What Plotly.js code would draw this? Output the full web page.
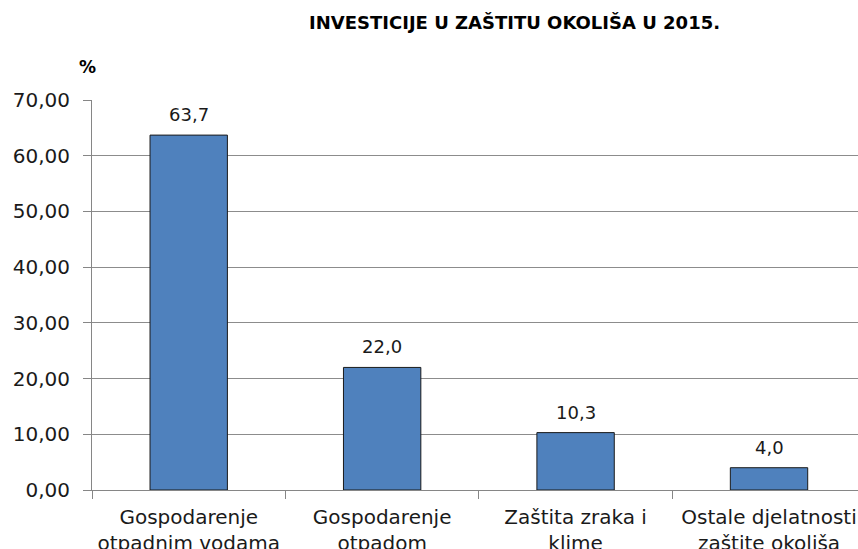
<!DOCTYPE html>
<html>
<head>
<meta charset="utf-8">
<script src="https://cdn.plot.ly/plotly-3.0.1.min.js"></script>
<style>html,body{margin:0;padding:0;overflow:hidden;background:#fff;}</style>
</head>
<body>
<div id="chart" style="width:858px;height:549px;"></div>
<script>
const categories = [
  "Gospodarenje<br>otpadnim vodama",
  "Gospodarenje<br>otpadom",
  "Zaštita zraka i<br>klime",
  "Ostale djelatnosti<br>zaštite okoliša"
];
const values = [63.7, 22.0, 10.3, 4.0];
const valueLabels = ["63,7", "22,0", "10,3", "4,0"];
const yTickVals = [0, 10, 20, 30, 40, 50, 60, 70];
const yTickText = ["0,00", "10,00", "20,00", "30,00", "40,00", "50,00", "60,00", "70,00"];

const trace = {
  type: "bar",
  x: categories,
  y: values,
  width: 0.4,
  marker: {color: "#4F81BD", line: {color: "#1a1a1a", width: 1}},
  hoverinfo: "none"
};

const annotations = categories.map((c, i) => ({
  x: c, y: values[i], text: valueLabels[i],
  xref: "x", yref: "y", showarrow: false,
  yanchor: "bottom", yshift: 8,
  font: {family: "DejaVu Sans", size: 18, color: "#1a1a1a"}
}));
annotations.push({
  xref: "paper", yref: "paper", x: -0.006, y: 1.055, xanchor: "center", yanchor: "bottom",
  text: "<b>%</b>", showarrow: false,
  font: {family: "DejaVu Sans", size: 17, color: "#000"}
});

const layout = {
  width: 858, height: 549,
  margin: {l: 92, r: 0, t: 100, b: 59},
  paper_bgcolor: "#fff", plot_bgcolor: "#fff",
  showlegend: false,
  title: {
    text: "<b>INVESTICIJE U ZAŠTITU OKOLIŠA U 2015.</b>",
    x: 0.5997, xanchor: "center", y: 0.958, yanchor: "middle",
    font: {family: "DejaVu Sans", size: 18, color: "#000"}
  },
  xaxis: {
    type: "category",
    range: [-0.5, 3.46],
    showline: true, linecolor: "#868686", linewidth: 1,
    tickson: "boundaries", ticks: "outside", ticklen: 8, tickcolor: "#868686",
    showgrid: false,
    ticklabelstandoff: 9,
    tickfont: {family: "DejaVu Sans", size: 20, color: "#1a1a1a"},
    fixedrange: true
  },
  yaxis: {
    range: [0, 70],
    tickvals: yTickVals, ticktext: yTickText,
    showline: true, linecolor: "#868686", linewidth: 1,
    ticks: "outside", ticklen: 8, tickcolor: "#868686",
    showgrid: true, gridcolor: "#8c8c8c", gridwidth: 1,
    zeroline: false,
    ticklabelstandoff: 9,
    tickfont: {family: "DejaVu Sans", size: 20, color: "#1a1a1a"},
    fixedrange: true
  },
  annotations: annotations
};

Plotly.newPlot("chart", [trace], layout, {displayModeBar: false, staticPlot: true});
</script>
</body>
</html>
